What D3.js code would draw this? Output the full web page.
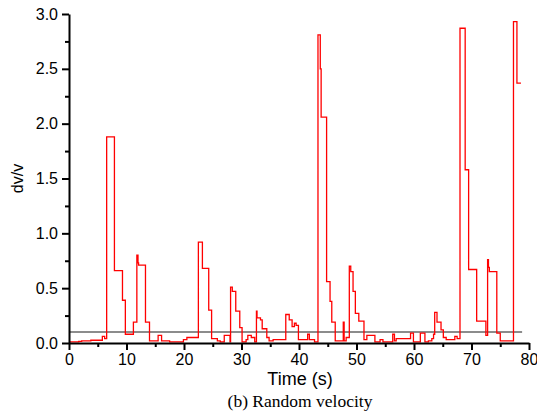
<!doctype html>
<html>
<head>
<script src="https://d3js.org/d3.v7.min.js"></script>
<style>
body { margin: 0; background: #fff; }
svg { display: block; }
.tick text { font-family: "Liberation Sans", Arial, sans-serif; font-size: 16px; fill: #000; }
.domain, .tick line { stroke: #000; stroke-width: 2px; }
</style>
</head>
<body>
<svg width="537" height="416"></svg>

<script type="text/javascript">
// step start times (s) and dv/v levels
var times = [0, 1.7, 2.2, 3.8, 5.8, 6.2, 6.55, 7.9, 9.3, 9.8, 11.2, 11.8, 12.0, 12.1, 13.3, 14.0, 15.5, 16.1, 17.5,
  19.9, 20.5, 22.5, 23.2, 24.3, 24.8, 25.8, 26.3, 27.0, 28.0, 28.1, 28.4, 29.0, 29.7, 30.1, 30.8, 31.1, 31.7, 32.3,
  32.6, 32.7, 33.3, 33.6, 34.4, 34.8, 35.5, 37.7, 38.3, 38.8, 39.2, 39.5, 39.9, 41.5, 41.8, 42.7, 43.3, 43.7, 43.85,
  44.8, 45.4, 45.7, 46.3, 47.7, 47.85, 48.2, 48.75, 49.0, 49.4, 49.8, 50.4, 51.3, 51.8, 53.2, 54.1, 54.6, 56.3, 56.6,
  56.9, 59.4, 59.9, 61.1, 61.9, 62.5, 63.1, 63.4, 63.6, 64.0, 64.7, 65.1, 65.6, 67.1, 67.5, 68.0, 68.9, 69.5, 70.9,
  72.5, 72.8, 72.95, 73.1, 74.4, 75.0, 77.3, 77.9, 78.6];
var dvv = [0.01, 0.015, 0.02, 0.025, 0.06, 0.04, 1.88, 0.66, 0.39, 0.08, 0.19, 0.80, 0.73, 0.71, 0.19, 0.02, 0.07, 0.02, 0.01,
  0.03, 0.05, 0.92, 0.68, 0.30, 0.04, 0.02, 0.01, 0.07, 0.01, 0.51, 0.47, 0.29, 0.14, 0.01, 0.03, 0.07, 0.05, 0.01,
  0.29, 0.23, 0.21, 0.13, 0.05, 0.02, 0.03, 0.26, 0.21, 0.15, 0.18, 0.16, 0.03, 0.08, 0.03, 0.01, 2.81, 2.50, 2.06,
  0.56, 0.38, 0.19, 0.02, 0.19, 0.02, 0.05, 0.70, 0.65, 0.47, 0.27, 0.20, 0.03, 0.07, 0.01, 0.03, 0.01, 0.08, 0.02,
  0.04, 0.09, 0.01, 0.09, 0.01, 0.02, 0.04, 0.08, 0.28, 0.19, 0.12, 0.05, 0.03, 0.06, 0.04, 2.87, 1.58, 0.67, 0.20,
  0.07, 0.76, 0.69, 0.65, 0.09, 0.02, 2.93, 2.37, 2.37];
var threshold = [0.1];
var thresholdSpan = [0, 78.8];
var xTicks = [0, 10, 20, 30, 40, 50, 60, 70, 80];
var yTicks = [0.0, 0.5, 1.0, 1.5, 2.0, 2.5, 3.0];

var svg = d3.select("svg");
var mLeft = 69, mRight = 529, mTop = 14, mBottom = 343;

var x = d3.scaleLinear().domain([0, 80]).range([mLeft, mRight]);
var y = d3.scaleLinear().domain([0, 3]).range([mBottom, mTop]);

var data = times.map(function(t, i) { return [t, dvv[i]]; });

// minor ticks
svg.append("g")
  .attr("transform", "translate(0," + mBottom + ")")
  .call(d3.axisBottom(x).tickValues(d3.range(5, 80, 10)).tickSize(4).tickFormat(""))
  .select(".domain").remove();
svg.append("g")
  .attr("transform", "translate(" + mLeft + ",0)")
  .call(d3.axisLeft(y).tickValues(d3.range(0.25, 3, 0.5)).tickSize(4).tickFormat(""))
  .select(".domain").remove();

// threshold line
svg.append("line")
  .attr("x1", x(thresholdSpan[0])).attr("x2", x(thresholdSpan[1]))
  .attr("y1", y(threshold[0])).attr("y2", y(threshold[0]))
  .attr("stroke", "#666").attr("stroke-width", 1.5);

// red series
svg.append("path")
  .datum(data)
  .attr("fill", "none")
  .attr("stroke", "#ff0000")
  .attr("stroke-width", 1.3)
  .attr("d", d3.line()
    .x(function(d) { return x(d[0]); })
    .y(function(d) { return y(d[1]); })
    .curve(d3.curveStepAfter));

// major axes
svg.append("g")
  .attr("transform", "translate(0," + mBottom + ")")
  .call(d3.axisBottom(x).tickValues(xTicks).tickSize(7).tickSizeOuter(0).tickPadding(4).tickFormat(d3.format("d")));
svg.append("g")
  .attr("transform", "translate(" + mLeft + ",0)")
  .call(d3.axisLeft(y).tickValues(yTicks).tickSize(7).tickSizeOuter(0).tickPadding(4).tickFormat(d3.format(".1f")));

svg.append("text")
  .attr("transform", "translate(23," + ((mTop + mBottom) / 2) + ") rotate(-90)")
  .attr("text-anchor", "middle")
  .style("font-family", "Liberation Sans, Arial, sans-serif")
  .style("font-size", "16px")
  .text("dv/v");

svg.append("text")
  .attr("x", 300).attr("y", 385)
  .attr("text-anchor", "middle")
  .style("font-family", "Liberation Sans, Arial, sans-serif")
  .style("font-size", "18px")
  .text("Time (s)");

svg.append("text")
  .attr("x", 300).attr("y", 407)
  .attr("text-anchor", "middle")
  .style("font-family", "Liberation Serif, Times New Roman, serif")
  .style("font-size", "17.5px")
  .text("(b) Random velocity");
</script>
</body>
</html>
